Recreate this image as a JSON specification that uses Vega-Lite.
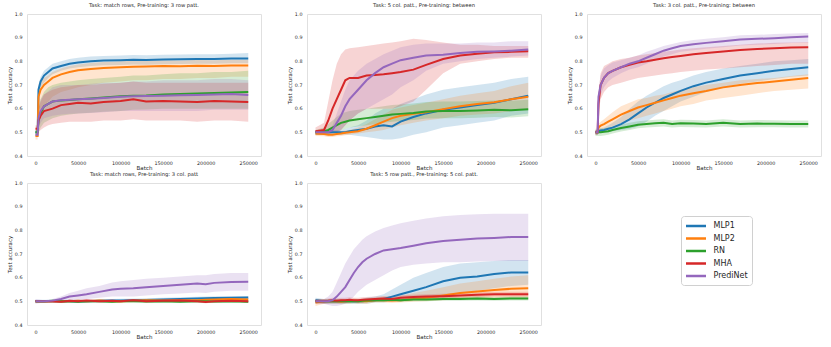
{
"$schema": "https://vega.github.io/schema/vega-lite/v6.json",
"padding": {"left": 6, "top": 2, "right": 0, "bottom": 0},
"background": "white",
"data": {"values": [
{"p":1,"m":"MLP1","b":0,"y":0.5,"l":0.49,"h":0.51},
{"p":1,"m":"MLP1","b":2500,"y":0.5,"l":0.49,"h":0.51},
{"p":1,"m":"MLP1","b":3500,"y":0.68,"l":0.66,"h":0.7},
{"p":1,"m":"MLP1","b":6000,"y":0.715,"l":0.69,"h":0.735},
{"p":1,"m":"MLP1","b":10000,"y":0.74,"l":0.71,"h":0.76},
{"p":1,"m":"MLP1","b":15000,"y":0.755,"l":0.73,"h":0.775},
{"p":1,"m":"MLP1","b":20000,"y":0.77,"l":0.745,"h":0.79},
{"p":1,"m":"MLP1","b":30000,"y":0.78,"l":0.76,"h":0.8},
{"p":1,"m":"MLP1","b":40000,"y":0.79,"l":0.77,"h":0.81},
{"p":1,"m":"MLP1","b":50000,"y":0.795,"l":0.775,"h":0.815},
{"p":1,"m":"MLP1","b":65000,"y":0.8,"l":0.78,"h":0.82},
{"p":1,"m":"MLP1","b":80000,"y":0.803,"l":0.783,"h":0.823},
{"p":1,"m":"MLP1","b":100000,"y":0.805,"l":0.785,"h":0.825},
{"p":1,"m":"MLP1","b":115000,"y":0.807,"l":0.787,"h":0.827},
{"p":1,"m":"MLP1","b":130000,"y":0.806,"l":0.786,"h":0.826},
{"p":1,"m":"MLP1","b":150000,"y":0.808,"l":0.788,"h":0.828},
{"p":1,"m":"MLP1","b":170000,"y":0.809,"l":0.789,"h":0.829},
{"p":1,"m":"MLP1","b":190000,"y":0.81,"l":0.79,"h":0.83},
{"p":1,"m":"MLP1","b":210000,"y":0.81,"l":0.79,"h":0.83},
{"p":1,"m":"MLP1","b":230000,"y":0.812,"l":0.792,"h":0.832},
{"p":1,"m":"MLP1","b":250000,"y":0.812,"l":0.792,"h":0.835},
{"p":1,"m":"MLP2","b":0,"y":0.485,"l":0.47,"h":0.5},
{"p":1,"m":"MLP2","b":2500,"y":0.485,"l":0.47,"h":0.5},
{"p":1,"m":"MLP2","b":3500,"y":0.65,"l":0.6,"h":0.69},
{"p":1,"m":"MLP2","b":6000,"y":0.68,"l":0.6,"h":0.71},
{"p":1,"m":"MLP2","b":10000,"y":0.7,"l":0.61,"h":0.73},
{"p":1,"m":"MLP2","b":15000,"y":0.715,"l":0.63,"h":0.74},
{"p":1,"m":"MLP2","b":20000,"y":0.73,"l":0.65,"h":0.755},
{"p":1,"m":"MLP2","b":30000,"y":0.745,"l":0.67,"h":0.77},
{"p":1,"m":"MLP2","b":40000,"y":0.755,"l":0.68,"h":0.78},
{"p":1,"m":"MLP2","b":50000,"y":0.762,"l":0.69,"h":0.787},
{"p":1,"m":"MLP2","b":65000,"y":0.768,"l":0.7,"h":0.793},
{"p":1,"m":"MLP2","b":80000,"y":0.772,"l":0.71,"h":0.797},
{"p":1,"m":"MLP2","b":100000,"y":0.775,"l":0.715,"h":0.8},
{"p":1,"m":"MLP2","b":115000,"y":0.777,"l":0.72,"h":0.802},
{"p":1,"m":"MLP2","b":130000,"y":0.778,"l":0.72,"h":0.803},
{"p":1,"m":"MLP2","b":150000,"y":0.78,"l":0.725,"h":0.805},
{"p":1,"m":"MLP2","b":170000,"y":0.779,"l":0.725,"h":0.804},
{"p":1,"m":"MLP2","b":190000,"y":0.781,"l":0.73,"h":0.806},
{"p":1,"m":"MLP2","b":210000,"y":0.78,"l":0.73,"h":0.805},
{"p":1,"m":"MLP2","b":230000,"y":0.782,"l":0.735,"h":0.807},
{"p":1,"m":"MLP2","b":250000,"y":0.782,"l":0.735,"h":0.807},
{"p":1,"m":"RN","b":0,"y":0.5,"l":0.49,"h":0.51},
{"p":1,"m":"RN","b":2500,"y":0.5,"l":0.49,"h":0.51},
{"p":1,"m":"RN","b":3500,"y":0.55,"l":0.5,"h":0.6},
{"p":1,"m":"RN","b":6000,"y":0.58,"l":0.52,"h":0.64},
{"p":1,"m":"RN","b":10000,"y":0.61,"l":0.54,"h":0.67},
{"p":1,"m":"RN","b":15000,"y":0.62,"l":0.55,"h":0.69},
{"p":1,"m":"RN","b":20000,"y":0.63,"l":0.56,"h":0.7},
{"p":1,"m":"RN","b":30000,"y":0.635,"l":0.57,"h":0.71},
{"p":1,"m":"RN","b":40000,"y":0.637,"l":0.575,"h":0.715},
{"p":1,"m":"RN","b":50000,"y":0.64,"l":0.58,"h":0.72},
{"p":1,"m":"RN","b":65000,"y":0.643,"l":0.583,"h":0.725},
{"p":1,"m":"RN","b":80000,"y":0.647,"l":0.587,"h":0.73},
{"p":1,"m":"RN","b":100000,"y":0.652,"l":0.59,"h":0.735},
{"p":1,"m":"RN","b":115000,"y":0.655,"l":0.595,"h":0.74},
{"p":1,"m":"RN","b":130000,"y":0.656,"l":0.596,"h":0.74},
{"p":1,"m":"RN","b":150000,"y":0.66,"l":0.6,"h":0.745},
{"p":1,"m":"RN","b":170000,"y":0.662,"l":0.6,"h":0.75},
{"p":1,"m":"RN","b":190000,"y":0.664,"l":0.6,"h":0.75},
{"p":1,"m":"RN","b":210000,"y":0.666,"l":0.6,"h":0.755},
{"p":1,"m":"RN","b":230000,"y":0.668,"l":0.6,"h":0.755},
{"p":1,"m":"RN","b":250000,"y":0.67,"l":0.6,"h":0.76},
{"p":1,"m":"MHA","b":0,"y":0.515,"l":0.5,"h":0.53},
{"p":1,"m":"MHA","b":2500,"y":0.515,"l":0.5,"h":0.53},
{"p":1,"m":"MHA","b":3500,"y":0.55,"l":0.5,"h":0.6},
{"p":1,"m":"MHA","b":6000,"y":0.57,"l":0.51,"h":0.63},
{"p":1,"m":"MHA","b":10000,"y":0.59,"l":0.52,"h":0.66},
{"p":1,"m":"MHA","b":15000,"y":0.595,"l":0.53,"h":0.67},
{"p":1,"m":"MHA","b":20000,"y":0.6,"l":0.535,"h":0.68},
{"p":1,"m":"MHA","b":30000,"y":0.615,"l":0.54,"h":0.69},
{"p":1,"m":"MHA","b":40000,"y":0.62,"l":0.545,"h":0.695},
{"p":1,"m":"MHA","b":50000,"y":0.625,"l":0.545,"h":0.7},
{"p":1,"m":"MHA","b":65000,"y":0.622,"l":0.545,"h":0.7},
{"p":1,"m":"MHA","b":80000,"y":0.628,"l":0.55,"h":0.705},
{"p":1,"m":"MHA","b":100000,"y":0.632,"l":0.55,"h":0.71},
{"p":1,"m":"MHA","b":115000,"y":0.64,"l":0.555,"h":0.715},
{"p":1,"m":"MHA","b":130000,"y":0.63,"l":0.55,"h":0.71},
{"p":1,"m":"MHA","b":150000,"y":0.632,"l":0.55,"h":0.71},
{"p":1,"m":"MHA","b":170000,"y":0.63,"l":0.55,"h":0.71},
{"p":1,"m":"MHA","b":190000,"y":0.628,"l":0.545,"h":0.71},
{"p":1,"m":"MHA","b":210000,"y":0.632,"l":0.55,"h":0.71},
{"p":1,"m":"MHA","b":230000,"y":0.63,"l":0.55,"h":0.71},
{"p":1,"m":"MHA","b":250000,"y":0.628,"l":0.545,"h":0.71},
{"p":1,"m":"PrediNet","b":0,"y":0.49,"l":0.48,"h":0.5},
{"p":1,"m":"PrediNet","b":2500,"y":0.49,"l":0.48,"h":0.5},
{"p":1,"m":"PrediNet","b":3500,"y":0.56,"l":0.52,"h":0.6},
{"p":1,"m":"PrediNet","b":6000,"y":0.59,"l":0.54,"h":0.64},
{"p":1,"m":"PrediNet","b":10000,"y":0.61,"l":0.56,"h":0.66},
{"p":1,"m":"PrediNet","b":15000,"y":0.62,"l":0.565,"h":0.675},
{"p":1,"m":"PrediNet","b":20000,"y":0.63,"l":0.57,"h":0.69},
{"p":1,"m":"PrediNet","b":30000,"y":0.636,"l":0.575,"h":0.7},
{"p":1,"m":"PrediNet","b":40000,"y":0.638,"l":0.578,"h":0.7},
{"p":1,"m":"PrediNet","b":50000,"y":0.64,"l":0.58,"h":0.7},
{"p":1,"m":"PrediNet","b":65000,"y":0.642,"l":0.582,"h":0.705},
{"p":1,"m":"PrediNet","b":80000,"y":0.645,"l":0.585,"h":0.71},
{"p":1,"m":"PrediNet","b":100000,"y":0.65,"l":0.59,"h":0.71},
{"p":1,"m":"PrediNet","b":115000,"y":0.652,"l":0.59,"h":0.715},
{"p":1,"m":"PrediNet","b":130000,"y":0.653,"l":0.59,"h":0.715},
{"p":1,"m":"PrediNet","b":150000,"y":0.655,"l":0.59,"h":0.72},
{"p":1,"m":"PrediNet","b":170000,"y":0.657,"l":0.59,"h":0.72},
{"p":1,"m":"PrediNet","b":190000,"y":0.658,"l":0.59,"h":0.72},
{"p":1,"m":"PrediNet","b":210000,"y":0.66,"l":0.595,"h":0.725},
{"p":1,"m":"PrediNet","b":230000,"y":0.662,"l":0.595,"h":0.725},
{"p":1,"m":"PrediNet","b":250000,"y":0.658,"l":0.595,"h":0.72},

{"p":2,"m":"MLP1","b":0,"y":0.5,"l":0.49,"h":0.51},
{"p":2,"m":"MLP1","b":10000,"y":0.5,"l":0.49,"h":0.51},
{"p":2,"m":"MLP1","b":15000,"y":0.5,"l":0.49,"h":0.51},
{"p":2,"m":"MLP1","b":20000,"y":0.5,"l":0.49,"h":0.51},
{"p":2,"m":"MLP1","b":25000,"y":0.5,"l":0.49,"h":0.51},
{"p":2,"m":"MLP1","b":30000,"y":0.5,"l":0.49,"h":0.51},
{"p":2,"m":"MLP1","b":35000,"y":0.5,"l":0.49,"h":0.515},
{"p":2,"m":"MLP1","b":40000,"y":0.505,"l":0.49,"h":0.52},
{"p":2,"m":"MLP1","b":50000,"y":0.51,"l":0.485,"h":0.53},
{"p":2,"m":"MLP1","b":60000,"y":0.515,"l":0.48,"h":0.55},
{"p":2,"m":"MLP1","b":70000,"y":0.525,"l":0.475,"h":0.58},
{"p":2,"m":"MLP1","b":80000,"y":0.53,"l":0.47,"h":0.6},
{"p":2,"m":"MLP1","b":90000,"y":0.525,"l":0.47,"h":0.6},
{"p":2,"m":"MLP1","b":100000,"y":0.545,"l":0.475,"h":0.62},
{"p":2,"m":"MLP1","b":115000,"y":0.565,"l":0.49,"h":0.64},
{"p":2,"m":"MLP1","b":130000,"y":0.58,"l":0.5,"h":0.66},
{"p":2,"m":"MLP1","b":150000,"y":0.595,"l":0.52,"h":0.68},
{"p":2,"m":"MLP1","b":170000,"y":0.605,"l":0.53,"h":0.69},
{"p":2,"m":"MLP1","b":190000,"y":0.615,"l":0.54,"h":0.7},
{"p":2,"m":"MLP1","b":210000,"y":0.625,"l":0.55,"h":0.71},
{"p":2,"m":"MLP1","b":230000,"y":0.64,"l":0.57,"h":0.725},
{"p":2,"m":"MLP1","b":250000,"y":0.655,"l":0.58,"h":0.735},
{"p":2,"m":"MLP2","b":0,"y":0.495,"l":0.485,"h":0.505},
{"p":2,"m":"MLP2","b":10000,"y":0.493,"l":0.483,"h":0.503},
{"p":2,"m":"MLP2","b":15000,"y":0.49,"l":0.48,"h":0.5},
{"p":2,"m":"MLP2","b":20000,"y":0.49,"l":0.48,"h":0.5},
{"p":2,"m":"MLP2","b":25000,"y":0.493,"l":0.483,"h":0.503},
{"p":2,"m":"MLP2","b":30000,"y":0.495,"l":0.485,"h":0.505},
{"p":2,"m":"MLP2","b":35000,"y":0.498,"l":0.488,"h":0.508},
{"p":2,"m":"MLP2","b":40000,"y":0.5,"l":0.49,"h":0.51},
{"p":2,"m":"MLP2","b":50000,"y":0.505,"l":0.495,"h":0.52},
{"p":2,"m":"MLP2","b":60000,"y":0.515,"l":0.5,"h":0.535},
{"p":2,"m":"MLP2","b":70000,"y":0.53,"l":0.505,"h":0.555},
{"p":2,"m":"MLP2","b":80000,"y":0.545,"l":0.51,"h":0.575},
{"p":2,"m":"MLP2","b":90000,"y":0.56,"l":0.52,"h":0.595},
{"p":2,"m":"MLP2","b":100000,"y":0.57,"l":0.53,"h":0.605},
{"p":2,"m":"MLP2","b":115000,"y":0.578,"l":0.54,"h":0.615},
{"p":2,"m":"MLP2","b":130000,"y":0.585,"l":0.55,"h":0.625},
{"p":2,"m":"MLP2","b":150000,"y":0.598,"l":0.56,"h":0.64},
{"p":2,"m":"MLP2","b":170000,"y":0.61,"l":0.57,"h":0.655},
{"p":2,"m":"MLP2","b":190000,"y":0.62,"l":0.575,"h":0.665},
{"p":2,"m":"MLP2","b":210000,"y":0.627,"l":0.58,"h":0.675},
{"p":2,"m":"MLP2","b":230000,"y":0.64,"l":0.59,"h":0.695},
{"p":2,"m":"MLP2","b":250000,"y":0.65,"l":0.6,"h":0.71},
{"p":2,"m":"RN","b":0,"y":0.5,"l":0.49,"h":0.51},
{"p":2,"m":"RN","b":10000,"y":0.505,"l":0.49,"h":0.52},
{"p":2,"m":"RN","b":15000,"y":0.51,"l":0.49,"h":0.535},
{"p":2,"m":"RN","b":20000,"y":0.52,"l":0.5,"h":0.55},
{"p":2,"m":"RN","b":25000,"y":0.53,"l":0.505,"h":0.565},
{"p":2,"m":"RN","b":30000,"y":0.54,"l":0.51,"h":0.58},
{"p":2,"m":"RN","b":35000,"y":0.545,"l":0.515,"h":0.585},
{"p":2,"m":"RN","b":40000,"y":0.55,"l":0.52,"h":0.59},
{"p":2,"m":"RN","b":50000,"y":0.555,"l":0.525,"h":0.595},
{"p":2,"m":"RN","b":60000,"y":0.56,"l":0.53,"h":0.6},
{"p":2,"m":"RN","b":70000,"y":0.565,"l":0.535,"h":0.605},
{"p":2,"m":"RN","b":80000,"y":0.57,"l":0.54,"h":0.61},
{"p":2,"m":"RN","b":90000,"y":0.575,"l":0.545,"h":0.615},
{"p":2,"m":"RN","b":100000,"y":0.578,"l":0.548,"h":0.618},
{"p":2,"m":"RN","b":115000,"y":0.582,"l":0.552,"h":0.622},
{"p":2,"m":"RN","b":130000,"y":0.588,"l":0.558,"h":0.628},
{"p":2,"m":"RN","b":150000,"y":0.59,"l":0.56,"h":0.63},
{"p":2,"m":"RN","b":170000,"y":0.59,"l":0.56,"h":0.63},
{"p":2,"m":"RN","b":190000,"y":0.592,"l":0.562,"h":0.632},
{"p":2,"m":"RN","b":210000,"y":0.595,"l":0.565,"h":0.635},
{"p":2,"m":"RN","b":230000,"y":0.593,"l":0.563,"h":0.633},
{"p":2,"m":"RN","b":250000,"y":0.598,"l":0.568,"h":0.638},
{"p":2,"m":"MHA","b":0,"y":0.505,"l":0.49,"h":0.52},
{"p":2,"m":"MHA","b":10000,"y":0.51,"l":0.49,"h":0.54},
{"p":2,"m":"MHA","b":15000,"y":0.55,"l":0.5,"h":0.63},
{"p":2,"m":"MHA","b":20000,"y":0.6,"l":0.5,"h":0.72},
{"p":2,"m":"MHA","b":25000,"y":0.64,"l":0.5,"h":0.79},
{"p":2,"m":"MHA","b":30000,"y":0.68,"l":0.51,"h":0.83},
{"p":2,"m":"MHA","b":35000,"y":0.72,"l":0.53,"h":0.85},
{"p":2,"m":"MHA","b":40000,"y":0.73,"l":0.55,"h":0.855},
{"p":2,"m":"MHA","b":50000,"y":0.73,"l":0.58,"h":0.86},
{"p":2,"m":"MHA","b":60000,"y":0.74,"l":0.6,"h":0.865},
{"p":2,"m":"MHA","b":70000,"y":0.742,"l":0.6,"h":0.87},
{"p":2,"m":"MHA","b":80000,"y":0.745,"l":0.6,"h":0.875},
{"p":2,"m":"MHA","b":90000,"y":0.75,"l":0.6,"h":0.88},
{"p":2,"m":"MHA","b":100000,"y":0.755,"l":0.61,"h":0.885},
{"p":2,"m":"MHA","b":115000,"y":0.765,"l":0.63,"h":0.895},
{"p":2,"m":"MHA","b":130000,"y":0.785,"l":0.68,"h":0.89},
{"p":2,"m":"MHA","b":150000,"y":0.81,"l":0.75,"h":0.88},
{"p":2,"m":"MHA","b":170000,"y":0.825,"l":0.79,"h":0.87},
{"p":2,"m":"MHA","b":190000,"y":0.832,"l":0.8,"h":0.87},
{"p":2,"m":"MHA","b":210000,"y":0.838,"l":0.81,"h":0.865},
{"p":2,"m":"MHA","b":230000,"y":0.84,"l":0.815,"h":0.865},
{"p":2,"m":"MHA","b":250000,"y":0.843,"l":0.815,"h":0.865},
{"p":2,"m":"PrediNet","b":0,"y":0.5,"l":0.49,"h":0.51},
{"p":2,"m":"PrediNet","b":10000,"y":0.5,"l":0.49,"h":0.51},
{"p":2,"m":"PrediNet","b":15000,"y":0.5,"l":0.49,"h":0.51},
{"p":2,"m":"PrediNet","b":20000,"y":0.51,"l":0.495,"h":0.53},
{"p":2,"m":"PrediNet","b":25000,"y":0.54,"l":0.5,"h":0.58},
{"p":2,"m":"PrediNet","b":30000,"y":0.57,"l":0.51,"h":0.63},
{"p":2,"m":"PrediNet","b":35000,"y":0.61,"l":0.53,"h":0.68},
{"p":2,"m":"PrediNet","b":40000,"y":0.64,"l":0.55,"h":0.72},
{"p":2,"m":"PrediNet","b":50000,"y":0.68,"l":0.58,"h":0.76},
{"p":2,"m":"PrediNet","b":60000,"y":0.72,"l":0.6,"h":0.79},
{"p":2,"m":"PrediNet","b":70000,"y":0.75,"l":0.62,"h":0.81},
{"p":2,"m":"PrediNet","b":80000,"y":0.775,"l":0.64,"h":0.83},
{"p":2,"m":"PrediNet","b":90000,"y":0.79,"l":0.66,"h":0.845},
{"p":2,"m":"PrediNet","b":100000,"y":0.805,"l":0.69,"h":0.86},
{"p":2,"m":"PrediNet","b":115000,"y":0.815,"l":0.72,"h":0.87},
{"p":2,"m":"PrediNet","b":130000,"y":0.825,"l":0.76,"h":0.875},
{"p":2,"m":"PrediNet","b":150000,"y":0.828,"l":0.79,"h":0.875},
{"p":2,"m":"PrediNet","b":170000,"y":0.835,"l":0.8,"h":0.875},
{"p":2,"m":"PrediNet","b":190000,"y":0.84,"l":0.81,"h":0.88},
{"p":2,"m":"PrediNet","b":210000,"y":0.842,"l":0.815,"h":0.88},
{"p":2,"m":"PrediNet","b":230000,"y":0.845,"l":0.82,"h":0.885},
{"p":2,"m":"PrediNet","b":250000,"y":0.85,"l":0.825,"h":0.885},

{"p":3,"m":"MLP1","b":0,"y":0.5,"l":0.49,"h":0.51},
{"p":3,"m":"MLP1","b":2500,"y":0.5,"l":0.49,"h":0.51},
{"p":3,"m":"MLP1","b":3500,"y":0.505,"l":0.495,"h":0.515},
{"p":3,"m":"MLP1","b":6000,"y":0.508,"l":0.498,"h":0.518},
{"p":3,"m":"MLP1","b":10000,"y":0.51,"l":0.5,"h":0.52},
{"p":3,"m":"MLP1","b":15000,"y":0.515,"l":0.5,"h":0.53},
{"p":3,"m":"MLP1","b":20000,"y":0.52,"l":0.505,"h":0.54},
{"p":3,"m":"MLP1","b":30000,"y":0.535,"l":0.51,"h":0.565},
{"p":3,"m":"MLP1","b":40000,"y":0.555,"l":0.515,"h":0.6},
{"p":3,"m":"MLP1","b":50000,"y":0.58,"l":0.525,"h":0.63},
{"p":3,"m":"MLP1","b":60000,"y":0.605,"l":0.545,"h":0.655},
{"p":3,"m":"MLP1","b":70000,"y":0.625,"l":0.57,"h":0.675},
{"p":3,"m":"MLP1","b":80000,"y":0.645,"l":0.59,"h":0.695},
{"p":3,"m":"MLP1","b":90000,"y":0.66,"l":0.61,"h":0.71},
{"p":3,"m":"MLP1","b":100000,"y":0.675,"l":0.63,"h":0.72},
{"p":3,"m":"MLP1","b":115000,"y":0.695,"l":0.65,"h":0.74},
{"p":3,"m":"MLP1","b":130000,"y":0.71,"l":0.67,"h":0.755},
{"p":3,"m":"MLP1","b":150000,"y":0.725,"l":0.69,"h":0.77},
{"p":3,"m":"MLP1","b":170000,"y":0.74,"l":0.705,"h":0.78},
{"p":3,"m":"MLP1","b":190000,"y":0.75,"l":0.715,"h":0.79},
{"p":3,"m":"MLP1","b":210000,"y":0.76,"l":0.725,"h":0.8},
{"p":3,"m":"MLP1","b":230000,"y":0.768,"l":0.735,"h":0.805},
{"p":3,"m":"MLP1","b":250000,"y":0.775,"l":0.74,"h":0.81},
{"p":3,"m":"MLP2","b":0,"y":0.5,"l":0.49,"h":0.51},
{"p":3,"m":"MLP2","b":2500,"y":0.5,"l":0.49,"h":0.51},
{"p":3,"m":"MLP2","b":3500,"y":0.52,"l":0.505,"h":0.535},
{"p":3,"m":"MLP2","b":6000,"y":0.528,"l":0.51,"h":0.545},
{"p":3,"m":"MLP2","b":10000,"y":0.535,"l":0.515,"h":0.555},
{"p":3,"m":"MLP2","b":15000,"y":0.545,"l":0.52,"h":0.57},
{"p":3,"m":"MLP2","b":20000,"y":0.555,"l":0.525,"h":0.585},
{"p":3,"m":"MLP2","b":30000,"y":0.575,"l":0.54,"h":0.61},
{"p":3,"m":"MLP2","b":40000,"y":0.59,"l":0.55,"h":0.625},
{"p":3,"m":"MLP2","b":50000,"y":0.605,"l":0.56,"h":0.64},
{"p":3,"m":"MLP2","b":60000,"y":0.615,"l":0.57,"h":0.645},
{"p":3,"m":"MLP2","b":70000,"y":0.625,"l":0.58,"h":0.655},
{"p":3,"m":"MLP2","b":80000,"y":0.635,"l":0.59,"h":0.66},
{"p":3,"m":"MLP2","b":90000,"y":0.645,"l":0.6,"h":0.67},
{"p":3,"m":"MLP2","b":100000,"y":0.655,"l":0.61,"h":0.68},
{"p":3,"m":"MLP2","b":115000,"y":0.665,"l":0.62,"h":0.69},
{"p":3,"m":"MLP2","b":130000,"y":0.675,"l":0.635,"h":0.7},
{"p":3,"m":"MLP2","b":150000,"y":0.69,"l":0.645,"h":0.71},
{"p":3,"m":"MLP2","b":170000,"y":0.7,"l":0.655,"h":0.72},
{"p":3,"m":"MLP2","b":190000,"y":0.708,"l":0.665,"h":0.725},
{"p":3,"m":"MLP2","b":210000,"y":0.715,"l":0.675,"h":0.73},
{"p":3,"m":"MLP2","b":230000,"y":0.722,"l":0.68,"h":0.738},
{"p":3,"m":"MLP2","b":250000,"y":0.73,"l":0.685,"h":0.745},
{"p":3,"m":"RN","b":0,"y":0.5,"l":0.485,"h":0.515},
{"p":3,"m":"RN","b":2500,"y":0.5,"l":0.485,"h":0.515},
{"p":3,"m":"RN","b":3500,"y":0.5,"l":0.485,"h":0.515},
{"p":3,"m":"RN","b":6000,"y":0.5,"l":0.485,"h":0.515},
{"p":3,"m":"RN","b":10000,"y":0.502,"l":0.487,"h":0.517},
{"p":3,"m":"RN","b":15000,"y":0.505,"l":0.49,"h":0.52},
{"p":3,"m":"RN","b":20000,"y":0.51,"l":0.495,"h":0.525},
{"p":3,"m":"RN","b":30000,"y":0.518,"l":0.503,"h":0.533},
{"p":3,"m":"RN","b":40000,"y":0.525,"l":0.51,"h":0.54},
{"p":3,"m":"RN","b":50000,"y":0.532,"l":0.517,"h":0.547},
{"p":3,"m":"RN","b":60000,"y":0.535,"l":0.52,"h":0.55},
{"p":3,"m":"RN","b":70000,"y":0.538,"l":0.523,"h":0.553},
{"p":3,"m":"RN","b":80000,"y":0.54,"l":0.525,"h":0.555},
{"p":3,"m":"RN","b":90000,"y":0.535,"l":0.52,"h":0.55},
{"p":3,"m":"RN","b":100000,"y":0.538,"l":0.523,"h":0.553},
{"p":3,"m":"RN","b":115000,"y":0.537,"l":0.522,"h":0.552},
{"p":3,"m":"RN","b":130000,"y":0.535,"l":0.52,"h":0.55},
{"p":3,"m":"RN","b":150000,"y":0.54,"l":0.525,"h":0.555},
{"p":3,"m":"RN","b":170000,"y":0.535,"l":0.52,"h":0.55},
{"p":3,"m":"RN","b":190000,"y":0.537,"l":0.522,"h":0.552},
{"p":3,"m":"RN","b":210000,"y":0.536,"l":0.521,"h":0.551},
{"p":3,"m":"RN","b":230000,"y":0.535,"l":0.52,"h":0.55},
{"p":3,"m":"RN","b":250000,"y":0.535,"l":0.52,"h":0.55},
{"p":3,"m":"MHA","b":0,"y":0.5,"l":0.49,"h":0.51},
{"p":3,"m":"MHA","b":2500,"y":0.5,"l":0.49,"h":0.51},
{"p":3,"m":"MHA","b":3500,"y":0.62,"l":0.58,"h":0.66},
{"p":3,"m":"MHA","b":6000,"y":0.7,"l":0.64,"h":0.75},
{"p":3,"m":"MHA","b":10000,"y":0.73,"l":0.67,"h":0.78},
{"p":3,"m":"MHA","b":15000,"y":0.75,"l":0.69,"h":0.79},
{"p":3,"m":"MHA","b":20000,"y":0.76,"l":0.7,"h":0.8},
{"p":3,"m":"MHA","b":30000,"y":0.775,"l":0.71,"h":0.81},
{"p":3,"m":"MHA","b":40000,"y":0.785,"l":0.72,"h":0.815},
{"p":3,"m":"MHA","b":50000,"y":0.795,"l":0.73,"h":0.825},
{"p":3,"m":"MHA","b":60000,"y":0.8,"l":0.735,"h":0.83},
{"p":3,"m":"MHA","b":70000,"y":0.807,"l":0.74,"h":0.835},
{"p":3,"m":"MHA","b":80000,"y":0.813,"l":0.745,"h":0.84},
{"p":3,"m":"MHA","b":90000,"y":0.818,"l":0.75,"h":0.845},
{"p":3,"m":"MHA","b":100000,"y":0.823,"l":0.755,"h":0.85},
{"p":3,"m":"MHA","b":115000,"y":0.83,"l":0.76,"h":0.855},
{"p":3,"m":"MHA","b":130000,"y":0.835,"l":0.765,"h":0.86},
{"p":3,"m":"MHA","b":150000,"y":0.842,"l":0.77,"h":0.865},
{"p":3,"m":"MHA","b":170000,"y":0.848,"l":0.775,"h":0.87},
{"p":3,"m":"MHA","b":190000,"y":0.852,"l":0.78,"h":0.875},
{"p":3,"m":"MHA","b":210000,"y":0.855,"l":0.785,"h":0.878},
{"p":3,"m":"MHA","b":230000,"y":0.858,"l":0.79,"h":0.88},
{"p":3,"m":"MHA","b":250000,"y":0.86,"l":0.79,"h":0.882},
{"p":3,"m":"PrediNet","b":0,"y":0.5,"l":0.49,"h":0.51},
{"p":3,"m":"PrediNet","b":2500,"y":0.5,"l":0.49,"h":0.51},
{"p":3,"m":"PrediNet","b":3500,"y":0.65,"l":0.62,"h":0.68},
{"p":3,"m":"PrediNet","b":6000,"y":0.7,"l":0.66,"h":0.74},
{"p":3,"m":"PrediNet","b":10000,"y":0.73,"l":0.69,"h":0.77},
{"p":3,"m":"PrediNet","b":15000,"y":0.75,"l":0.715,"h":0.785},
{"p":3,"m":"PrediNet","b":20000,"y":0.76,"l":0.73,"h":0.795},
{"p":3,"m":"PrediNet","b":30000,"y":0.775,"l":0.75,"h":0.805},
{"p":3,"m":"PrediNet","b":40000,"y":0.79,"l":0.765,"h":0.815},
{"p":3,"m":"PrediNet","b":50000,"y":0.8,"l":0.775,"h":0.825},
{"p":3,"m":"PrediNet","b":60000,"y":0.815,"l":0.79,"h":0.84},
{"p":3,"m":"PrediNet","b":70000,"y":0.83,"l":0.805,"h":0.852},
{"p":3,"m":"PrediNet","b":80000,"y":0.845,"l":0.82,"h":0.865},
{"p":3,"m":"PrediNet","b":90000,"y":0.855,"l":0.83,"h":0.873},
{"p":3,"m":"PrediNet","b":100000,"y":0.865,"l":0.84,"h":0.882},
{"p":3,"m":"PrediNet","b":115000,"y":0.872,"l":0.847,"h":0.89},
{"p":3,"m":"PrediNet","b":130000,"y":0.878,"l":0.853,"h":0.895},
{"p":3,"m":"PrediNet","b":150000,"y":0.885,"l":0.86,"h":0.902},
{"p":3,"m":"PrediNet","b":170000,"y":0.892,"l":0.867,"h":0.91},
{"p":3,"m":"PrediNet","b":190000,"y":0.895,"l":0.87,"h":0.912},
{"p":3,"m":"PrediNet","b":210000,"y":0.898,"l":0.873,"h":0.915},
{"p":3,"m":"PrediNet","b":230000,"y":0.902,"l":0.877,"h":0.918},
{"p":3,"m":"PrediNet","b":250000,"y":0.905,"l":0.88,"h":0.92},

{"p":4,"m":"MLP1","b":0,"y":0.5,"l":0.493,"h":0.507},
{"p":4,"m":"MLP1","b":10000,"y":0.5,"l":0.493,"h":0.507},
{"p":4,"m":"MLP1","b":20000,"y":0.5,"l":0.493,"h":0.507},
{"p":4,"m":"MLP1","b":30000,"y":0.5,"l":0.493,"h":0.507},
{"p":4,"m":"MLP1","b":40000,"y":0.5,"l":0.493,"h":0.507},
{"p":4,"m":"MLP1","b":50000,"y":0.5,"l":0.493,"h":0.507},
{"p":4,"m":"MLP1","b":60000,"y":0.5,"l":0.493,"h":0.507},
{"p":4,"m":"MLP1","b":75000,"y":0.502,"l":0.495,"h":0.509},
{"p":4,"m":"MLP1","b":90000,"y":0.503,"l":0.496,"h":0.51},
{"p":4,"m":"MLP1","b":100000,"y":0.504,"l":0.497,"h":0.511},
{"p":4,"m":"MLP1","b":115000,"y":0.505,"l":0.498,"h":0.512},
{"p":4,"m":"MLP1","b":130000,"y":0.506,"l":0.499,"h":0.513},
{"p":4,"m":"MLP1","b":150000,"y":0.508,"l":0.501,"h":0.515},
{"p":4,"m":"MLP1","b":170000,"y":0.51,"l":0.503,"h":0.517},
{"p":4,"m":"MLP1","b":190000,"y":0.512,"l":0.505,"h":0.519},
{"p":4,"m":"MLP1","b":200000,"y":0.513,"l":0.506,"h":0.52},
{"p":4,"m":"MLP1","b":210000,"y":0.514,"l":0.507,"h":0.521},
{"p":4,"m":"MLP1","b":230000,"y":0.515,"l":0.508,"h":0.522},
{"p":4,"m":"MLP1","b":250000,"y":0.516,"l":0.509,"h":0.523},
{"p":4,"m":"MLP2","b":0,"y":0.5,"l":0.494,"h":0.506},
{"p":4,"m":"MLP2","b":10000,"y":0.5,"l":0.494,"h":0.506},
{"p":4,"m":"MLP2","b":20000,"y":0.5,"l":0.494,"h":0.506},
{"p":4,"m":"MLP2","b":30000,"y":0.5,"l":0.494,"h":0.506},
{"p":4,"m":"MLP2","b":40000,"y":0.5,"l":0.494,"h":0.506},
{"p":4,"m":"MLP2","b":50000,"y":0.502,"l":0.496,"h":0.508},
{"p":4,"m":"MLP2","b":60000,"y":0.5,"l":0.494,"h":0.506},
{"p":4,"m":"MLP2","b":75000,"y":0.503,"l":0.497,"h":0.509},
{"p":4,"m":"MLP2","b":90000,"y":0.5,"l":0.494,"h":0.506},
{"p":4,"m":"MLP2","b":100000,"y":0.5,"l":0.494,"h":0.506},
{"p":4,"m":"MLP2","b":115000,"y":0.502,"l":0.496,"h":0.508},
{"p":4,"m":"MLP2","b":130000,"y":0.505,"l":0.499,"h":0.511},
{"p":4,"m":"MLP2","b":150000,"y":0.503,"l":0.497,"h":0.509},
{"p":4,"m":"MLP2","b":170000,"y":0.505,"l":0.499,"h":0.511},
{"p":4,"m":"MLP2","b":190000,"y":0.505,"l":0.499,"h":0.511},
{"p":4,"m":"MLP2","b":200000,"y":0.507,"l":0.501,"h":0.513},
{"p":4,"m":"MLP2","b":210000,"y":0.508,"l":0.502,"h":0.514},
{"p":4,"m":"MLP2","b":230000,"y":0.51,"l":0.504,"h":0.516},
{"p":4,"m":"MLP2","b":250000,"y":0.508,"l":0.502,"h":0.514},
{"p":4,"m":"RN","b":0,"y":0.5,"l":0.495,"h":0.505},
{"p":4,"m":"RN","b":10000,"y":0.5,"l":0.495,"h":0.505},
{"p":4,"m":"RN","b":20000,"y":0.502,"l":0.497,"h":0.507},
{"p":4,"m":"RN","b":30000,"y":0.5,"l":0.495,"h":0.505},
{"p":4,"m":"RN","b":40000,"y":0.5,"l":0.495,"h":0.505},
{"p":4,"m":"RN","b":50000,"y":0.498,"l":0.493,"h":0.503},
{"p":4,"m":"RN","b":60000,"y":0.5,"l":0.495,"h":0.505},
{"p":4,"m":"RN","b":75000,"y":0.5,"l":0.495,"h":0.505},
{"p":4,"m":"RN","b":90000,"y":0.498,"l":0.493,"h":0.503},
{"p":4,"m":"RN","b":100000,"y":0.5,"l":0.495,"h":0.505},
{"p":4,"m":"RN","b":115000,"y":0.5,"l":0.495,"h":0.505},
{"p":4,"m":"RN","b":130000,"y":0.499,"l":0.494,"h":0.504},
{"p":4,"m":"RN","b":150000,"y":0.5,"l":0.495,"h":0.505},
{"p":4,"m":"RN","b":170000,"y":0.498,"l":0.493,"h":0.503},
{"p":4,"m":"RN","b":190000,"y":0.5,"l":0.495,"h":0.505},
{"p":4,"m":"RN","b":200000,"y":0.5,"l":0.495,"h":0.505},
{"p":4,"m":"RN","b":210000,"y":0.499,"l":0.494,"h":0.504},
{"p":4,"m":"RN","b":230000,"y":0.5,"l":0.495,"h":0.505},
{"p":4,"m":"RN","b":250000,"y":0.498,"l":0.493,"h":0.503},
{"p":4,"m":"MHA","b":0,"y":0.5,"l":0.495,"h":0.505},
{"p":4,"m":"MHA","b":10000,"y":0.5,"l":0.495,"h":0.505},
{"p":4,"m":"MHA","b":20000,"y":0.5,"l":0.495,"h":0.505},
{"p":4,"m":"MHA","b":30000,"y":0.498,"l":0.493,"h":0.503},
{"p":4,"m":"MHA","b":40000,"y":0.502,"l":0.497,"h":0.507},
{"p":4,"m":"MHA","b":50000,"y":0.5,"l":0.495,"h":0.505},
{"p":4,"m":"MHA","b":60000,"y":0.503,"l":0.498,"h":0.508},
{"p":4,"m":"MHA","b":75000,"y":0.5,"l":0.495,"h":0.505},
{"p":4,"m":"MHA","b":90000,"y":0.502,"l":0.497,"h":0.507},
{"p":4,"m":"MHA","b":100000,"y":0.5,"l":0.495,"h":0.505},
{"p":4,"m":"MHA","b":115000,"y":0.505,"l":0.5,"h":0.51},
{"p":4,"m":"MHA","b":130000,"y":0.5,"l":0.495,"h":0.505},
{"p":4,"m":"MHA","b":150000,"y":0.502,"l":0.497,"h":0.507},
{"p":4,"m":"MHA","b":170000,"y":0.503,"l":0.498,"h":0.508},
{"p":4,"m":"MHA","b":190000,"y":0.5,"l":0.495,"h":0.505},
{"p":4,"m":"MHA","b":200000,"y":0.497,"l":0.492,"h":0.502},
{"p":4,"m":"MHA","b":210000,"y":0.5,"l":0.495,"h":0.505},
{"p":4,"m":"MHA","b":230000,"y":0.502,"l":0.497,"h":0.507},
{"p":4,"m":"MHA","b":250000,"y":0.5,"l":0.495,"h":0.505},
{"p":4,"m":"PrediNet","b":0,"y":0.5,"l":0.49,"h":0.51},
{"p":4,"m":"PrediNet","b":10000,"y":0.5,"l":0.495,"h":0.505},
{"p":4,"m":"PrediNet","b":20000,"y":0.503,"l":0.497,"h":0.51},
{"p":4,"m":"PrediNet","b":30000,"y":0.51,"l":0.5,"h":0.52},
{"p":4,"m":"PrediNet","b":40000,"y":0.52,"l":0.505,"h":0.535},
{"p":4,"m":"PrediNet","b":50000,"y":0.525,"l":0.505,"h":0.545},
{"p":4,"m":"PrediNet","b":60000,"y":0.53,"l":0.51,"h":0.555},
{"p":4,"m":"PrediNet","b":75000,"y":0.54,"l":0.515,"h":0.565},
{"p":4,"m":"PrediNet","b":90000,"y":0.55,"l":0.52,"h":0.58},
{"p":4,"m":"PrediNet","b":100000,"y":0.553,"l":0.52,"h":0.585},
{"p":4,"m":"PrediNet","b":115000,"y":0.555,"l":0.52,"h":0.59},
{"p":4,"m":"PrediNet","b":130000,"y":0.56,"l":0.525,"h":0.595},
{"p":4,"m":"PrediNet","b":150000,"y":0.565,"l":0.53,"h":0.6},
{"p":4,"m":"PrediNet","b":170000,"y":0.57,"l":0.533,"h":0.605},
{"p":4,"m":"PrediNet","b":190000,"y":0.575,"l":0.537,"h":0.61},
{"p":4,"m":"PrediNet","b":200000,"y":0.572,"l":0.535,"h":0.61},
{"p":4,"m":"PrediNet","b":210000,"y":0.578,"l":0.54,"h":0.615},
{"p":4,"m":"PrediNet","b":230000,"y":0.582,"l":0.545,"h":0.62},
{"p":4,"m":"PrediNet","b":250000,"y":0.583,"l":0.545,"h":0.62},

{"p":5,"m":"MLP1","b":0,"y":0.505,"l":0.495,"h":0.515},
{"p":5,"m":"MLP1","b":10000,"y":0.5,"l":0.49,"h":0.51},
{"p":5,"m":"MLP1","b":15000,"y":0.5,"l":0.49,"h":0.51},
{"p":5,"m":"MLP1","b":20000,"y":0.5,"l":0.49,"h":0.51},
{"p":5,"m":"MLP1","b":25000,"y":0.5,"l":0.49,"h":0.51},
{"p":5,"m":"MLP1","b":30000,"y":0.5,"l":0.49,"h":0.51},
{"p":5,"m":"MLP1","b":35000,"y":0.5,"l":0.49,"h":0.51},
{"p":5,"m":"MLP1","b":40000,"y":0.5,"l":0.49,"h":0.51},
{"p":5,"m":"MLP1","b":45000,"y":0.5,"l":0.49,"h":0.51},
{"p":5,"m":"MLP1","b":50000,"y":0.5,"l":0.49,"h":0.51},
{"p":5,"m":"MLP1","b":55000,"y":0.5,"l":0.49,"h":0.51},
{"p":5,"m":"MLP1","b":60000,"y":0.502,"l":0.49,"h":0.515},
{"p":5,"m":"MLP1","b":70000,"y":0.505,"l":0.495,"h":0.52},
{"p":5,"m":"MLP1","b":80000,"y":0.51,"l":0.495,"h":0.53},
{"p":5,"m":"MLP1","b":90000,"y":0.52,"l":0.5,"h":0.55},
{"p":5,"m":"MLP1","b":100000,"y":0.53,"l":0.5,"h":0.57},
{"p":5,"m":"MLP1","b":115000,"y":0.545,"l":0.505,"h":0.6},
{"p":5,"m":"MLP1","b":130000,"y":0.56,"l":0.51,"h":0.62},
{"p":5,"m":"MLP1","b":150000,"y":0.585,"l":0.52,"h":0.645},
{"p":5,"m":"MLP1","b":170000,"y":0.6,"l":0.535,"h":0.66},
{"p":5,"m":"MLP1","b":190000,"y":0.605,"l":0.545,"h":0.665},
{"p":5,"m":"MLP1","b":210000,"y":0.615,"l":0.555,"h":0.67},
{"p":5,"m":"MLP1","b":230000,"y":0.622,"l":0.565,"h":0.675},
{"p":5,"m":"MLP1","b":250000,"y":0.622,"l":0.57,"h":0.675},
{"p":5,"m":"MLP2","b":0,"y":0.495,"l":0.48,"h":0.51},
{"p":5,"m":"MLP2","b":10000,"y":0.5,"l":0.49,"h":0.51},
{"p":5,"m":"MLP2","b":15000,"y":0.5,"l":0.49,"h":0.51},
{"p":5,"m":"MLP2","b":20000,"y":0.5,"l":0.49,"h":0.51},
{"p":5,"m":"MLP2","b":25000,"y":0.5,"l":0.49,"h":0.51},
{"p":5,"m":"MLP2","b":30000,"y":0.498,"l":0.488,"h":0.508},
{"p":5,"m":"MLP2","b":35000,"y":0.5,"l":0.49,"h":0.51},
{"p":5,"m":"MLP2","b":40000,"y":0.5,"l":0.49,"h":0.51},
{"p":5,"m":"MLP2","b":45000,"y":0.502,"l":0.492,"h":0.512},
{"p":5,"m":"MLP2","b":50000,"y":0.5,"l":0.49,"h":0.51},
{"p":5,"m":"MLP2","b":55000,"y":0.5,"l":0.49,"h":0.51},
{"p":5,"m":"MLP2","b":60000,"y":0.5,"l":0.49,"h":0.51},
{"p":5,"m":"MLP2","b":70000,"y":0.505,"l":0.495,"h":0.515},
{"p":5,"m":"MLP2","b":80000,"y":0.505,"l":0.495,"h":0.52},
{"p":5,"m":"MLP2","b":90000,"y":0.503,"l":0.493,"h":0.52},
{"p":5,"m":"MLP2","b":100000,"y":0.505,"l":0.495,"h":0.525},
{"p":5,"m":"MLP2","b":115000,"y":0.51,"l":0.498,"h":0.535},
{"p":5,"m":"MLP2","b":130000,"y":0.515,"l":0.5,"h":0.545},
{"p":5,"m":"MLP2","b":150000,"y":0.525,"l":0.505,"h":0.56},
{"p":5,"m":"MLP2","b":170000,"y":0.535,"l":0.51,"h":0.575},
{"p":5,"m":"MLP2","b":190000,"y":0.542,"l":0.512,"h":0.585},
{"p":5,"m":"MLP2","b":210000,"y":0.548,"l":0.515,"h":0.595},
{"p":5,"m":"MLP2","b":230000,"y":0.553,"l":0.515,"h":0.605},
{"p":5,"m":"MLP2","b":250000,"y":0.555,"l":0.515,"h":0.61},
{"p":5,"m":"RN","b":0,"y":0.5,"l":0.492,"h":0.508},
{"p":5,"m":"RN","b":10000,"y":0.5,"l":0.492,"h":0.508},
{"p":5,"m":"RN","b":15000,"y":0.5,"l":0.492,"h":0.508},
{"p":5,"m":"RN","b":20000,"y":0.5,"l":0.492,"h":0.508},
{"p":5,"m":"RN","b":25000,"y":0.5,"l":0.492,"h":0.508},
{"p":5,"m":"RN","b":30000,"y":0.5,"l":0.492,"h":0.508},
{"p":5,"m":"RN","b":35000,"y":0.5,"l":0.492,"h":0.508},
{"p":5,"m":"RN","b":40000,"y":0.5,"l":0.492,"h":0.508},
{"p":5,"m":"RN","b":45000,"y":0.5,"l":0.492,"h":0.508},
{"p":5,"m":"RN","b":50000,"y":0.5,"l":0.492,"h":0.508},
{"p":5,"m":"RN","b":55000,"y":0.502,"l":0.494,"h":0.51},
{"p":5,"m":"RN","b":60000,"y":0.503,"l":0.495,"h":0.511},
{"p":5,"m":"RN","b":70000,"y":0.505,"l":0.497,"h":0.513},
{"p":5,"m":"RN","b":80000,"y":0.505,"l":0.497,"h":0.513},
{"p":5,"m":"RN","b":90000,"y":0.507,"l":0.499,"h":0.515},
{"p":5,"m":"RN","b":100000,"y":0.505,"l":0.497,"h":0.513},
{"p":5,"m":"RN","b":115000,"y":0.508,"l":0.5,"h":0.516},
{"p":5,"m":"RN","b":130000,"y":0.508,"l":0.5,"h":0.516},
{"p":5,"m":"RN","b":150000,"y":0.51,"l":0.502,"h":0.518},
{"p":5,"m":"RN","b":170000,"y":0.51,"l":0.502,"h":0.518},
{"p":5,"m":"RN","b":190000,"y":0.512,"l":0.504,"h":0.52},
{"p":5,"m":"RN","b":210000,"y":0.51,"l":0.502,"h":0.518},
{"p":5,"m":"RN","b":230000,"y":0.512,"l":0.504,"h":0.52},
{"p":5,"m":"RN","b":250000,"y":0.512,"l":0.504,"h":0.52},
{"p":5,"m":"MHA","b":0,"y":0.5,"l":0.49,"h":0.51},
{"p":5,"m":"MHA","b":10000,"y":0.5,"l":0.49,"h":0.51},
{"p":5,"m":"MHA","b":15000,"y":0.502,"l":0.492,"h":0.512},
{"p":5,"m":"MHA","b":20000,"y":0.505,"l":0.495,"h":0.515},
{"p":5,"m":"MHA","b":25000,"y":0.503,"l":0.493,"h":0.513},
{"p":5,"m":"MHA","b":30000,"y":0.505,"l":0.495,"h":0.515},
{"p":5,"m":"MHA","b":35000,"y":0.505,"l":0.495,"h":0.515},
{"p":5,"m":"MHA","b":40000,"y":0.507,"l":0.497,"h":0.517},
{"p":5,"m":"MHA","b":45000,"y":0.505,"l":0.495,"h":0.515},
{"p":5,"m":"MHA","b":50000,"y":0.505,"l":0.495,"h":0.515},
{"p":5,"m":"MHA","b":55000,"y":0.507,"l":0.497,"h":0.517},
{"p":5,"m":"MHA","b":60000,"y":0.508,"l":0.498,"h":0.518},
{"p":5,"m":"MHA","b":70000,"y":0.51,"l":0.5,"h":0.52},
{"p":5,"m":"MHA","b":80000,"y":0.512,"l":0.502,"h":0.522},
{"p":5,"m":"MHA","b":90000,"y":0.51,"l":0.5,"h":0.52},
{"p":5,"m":"MHA","b":100000,"y":0.515,"l":0.505,"h":0.525},
{"p":5,"m":"MHA","b":115000,"y":0.518,"l":0.508,"h":0.528},
{"p":5,"m":"MHA","b":130000,"y":0.52,"l":0.51,"h":0.53},
{"p":5,"m":"MHA","b":150000,"y":0.522,"l":0.512,"h":0.532},
{"p":5,"m":"MHA","b":170000,"y":0.525,"l":0.515,"h":0.535},
{"p":5,"m":"MHA","b":190000,"y":0.528,"l":0.518,"h":0.538},
{"p":5,"m":"MHA","b":210000,"y":0.53,"l":0.52,"h":0.54},
{"p":5,"m":"MHA","b":230000,"y":0.53,"l":0.52,"h":0.54},
{"p":5,"m":"MHA","b":250000,"y":0.53,"l":0.52,"h":0.54},
{"p":5,"m":"PrediNet","b":0,"y":0.5,"l":0.49,"h":0.51},
{"p":5,"m":"PrediNet","b":10000,"y":0.5,"l":0.49,"h":0.51},
{"p":5,"m":"PrediNet","b":15000,"y":0.5,"l":0.485,"h":0.52},
{"p":5,"m":"PrediNet","b":20000,"y":0.505,"l":0.48,"h":0.54},
{"p":5,"m":"PrediNet","b":25000,"y":0.52,"l":0.48,"h":0.58},
{"p":5,"m":"PrediNet","b":30000,"y":0.54,"l":0.485,"h":0.62},
{"p":5,"m":"PrediNet","b":35000,"y":0.56,"l":0.49,"h":0.66},
{"p":5,"m":"PrediNet","b":40000,"y":0.59,"l":0.5,"h":0.69},
{"p":5,"m":"PrediNet","b":45000,"y":0.62,"l":0.52,"h":0.72},
{"p":5,"m":"PrediNet","b":50000,"y":0.645,"l":0.54,"h":0.74},
{"p":5,"m":"PrediNet","b":55000,"y":0.665,"l":0.555,"h":0.76},
{"p":5,"m":"PrediNet","b":60000,"y":0.68,"l":0.57,"h":0.775},
{"p":5,"m":"PrediNet","b":70000,"y":0.7,"l":0.59,"h":0.795},
{"p":5,"m":"PrediNet","b":80000,"y":0.715,"l":0.61,"h":0.81},
{"p":5,"m":"PrediNet","b":90000,"y":0.72,"l":0.63,"h":0.82},
{"p":5,"m":"PrediNet","b":100000,"y":0.725,"l":0.645,"h":0.83},
{"p":5,"m":"PrediNet","b":115000,"y":0.735,"l":0.655,"h":0.84},
{"p":5,"m":"PrediNet","b":130000,"y":0.745,"l":0.66,"h":0.85},
{"p":5,"m":"PrediNet","b":150000,"y":0.755,"l":0.665,"h":0.86},
{"p":5,"m":"PrediNet","b":170000,"y":0.76,"l":0.665,"h":0.865},
{"p":5,"m":"PrediNet","b":190000,"y":0.765,"l":0.668,"h":0.868},
{"p":5,"m":"PrediNet","b":210000,"y":0.768,"l":0.67,"h":0.87},
{"p":5,"m":"PrediNet","b":230000,"y":0.772,"l":0.67,"h":0.87},
{"p":5,"m":"PrediNet","b":250000,"y":0.772,"l":0.67,"h":0.87}
]},
"facet": {
  "field": "p", "type": "nominal",
  "header": {"title": null, "labelExpr": "['', 'Task: match rows, Pre-training: 3 row patt.', 'Task: 5 col. patt., Pre-training: between', 'Task: 3 col. patt., Pre-training: between', 'Task: match rows, Pre-training: 3 col. patt', 'Task: 5 row patt., Pre-training: 5 col. patt.'][datum.value]"}
},
"columns": 3,
"spacing": {"column": 24, "row": -1},
"resolve": {"axis": {"x": "independent", "y": "independent"}},
"spec": {
  "width": 234,
  "height": 142,
  "layer": [
    {
      "mark": {"type": "area", "fillOpacity": 0.2},
      "encoding": {
        "x": {"field": "b", "type": "quantitative", "scale": {"domain": [-10000, 265000], "nice": false, "zero": false}, "axis": {"values": [0, 50000, 100000, 150000, 200000, 250000], "format": "d", "title": "Batch"}},
        "y": {"field": "l", "type": "quantitative", "scale": {"domain": [0.4, 1.0], "nice": false, "zero": false}, "axis": {"values": [0.4, 0.5, 0.6, 0.7, 0.8, 0.9, 1.0], "format": ".1f", "title": "Test accuracy", "labelOverlap": false}},
        "y2": {"field": "h"},
        "color": {"field": "m", "type": "nominal", "scale": {"domain": ["MLP1", "MLP2", "RN", "MHA", "PrediNet"], "range": ["#1f77b4", "#ff7f0e", "#2ca02c", "#d62728", "#9467bd"]}}
      }
    },
    {
      "mark": {"type": "line", "strokeWidth": 2},
      "encoding": {
        "x": {"field": "b", "type": "quantitative", "axis": {"values": [0, 50000, 100000, 150000, 200000, 250000], "format": "d", "title": "Batch"}},
        "y": {"field": "y", "type": "quantitative", "axis": {"values": [0.4, 0.5, 0.6, 0.7, 0.8, 0.9, 1.0], "format": ".1f", "title": "Test accuracy", "labelOverlap": false}},
        "color": {"field": "m", "type": "nominal"}
      }
    }
  ]
},
"config": {
  "view": {"stroke": "#e0e0e0", "strokeWidth": 1},
  "axis": {"domain": false, "ticks": false, "grid": false, "labelFont": "DejaVu Sans", "labelFontSize": 4.8, "labelColor": "#262626", "titleFont": "DejaVu Sans", "titleFontSize": 5.5, "titleFontWeight": "normal", "titleColor": "#262626", "labelOverlap": false},
  "axisX": {"labelPadding": 4, "titlePadding": 1},
  "axisY": {"labelPadding": 5, "titlePadding": 2},
  "header": {"labelFont": "DejaVu Sans", "labelFontSize": 5.2, "labelColor": "#262626", "labelPadding": 3},
  "legend": {"orient": "none", "legendX": 654, "legendY": 202, "title": null, "symbolType": "M-1,0H3", "symbolSize": 100, "symbolStrokeWidth": 2.5, "symbolOpacity": 1, "symbolFillColor": "transparent", "labelFont": "DejaVu Sans", "labelFontSize": 8, "labelFontWeight": "normal", "labelColor": "#262626", "rowPadding": 0.5, "padding": 3.5, "fillColor": "white", "strokeColor": "#d0d0d0", "cornerRadius": 3, "labelOffset": 16}
}
}
